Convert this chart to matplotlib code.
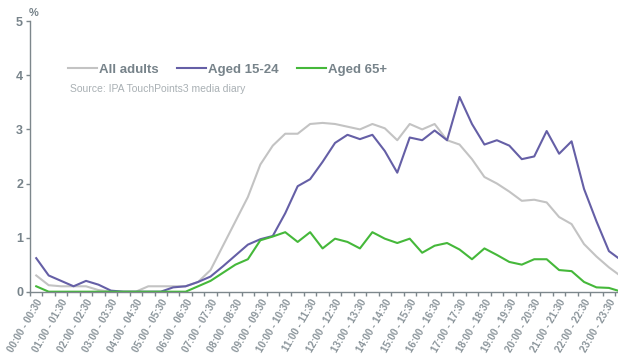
import matplotlib
matplotlib.use('Agg')
import matplotlib.pyplot as plt
import numpy as np

# Half-hour slots across the day (labels shown every hour)
slots = [f"{h:02d}:{m:02d} - {h + (m + 30) // 60:02d}:{(m + 30) % 60:02d}"
         for h in range(24) for m in (0, 30)]

all_adults = [0.30, 0.12, 0.10, 0.10, 0.10, 0.03, 0.00, 0.00, 0.00, 0.10,
              0.10, 0.10, 0.10, 0.18, 0.40, 0.85, 1.30, 1.75, 2.35, 2.70,
              2.92, 2.92, 3.10, 3.12, 3.10, 3.05, 3.00, 3.10, 3.02, 2.80,
              3.10, 3.00, 3.10, 2.80, 2.72, 2.45, 2.12, 2.00, 1.85, 1.68,
              1.70, 1.65, 1.38, 1.25, 0.88, 0.65, 0.45, 0.28]

aged_15_24 = [0.62, 0.30, 0.20, 0.10, 0.20, 0.13, 0.02, 0.00, 0.00, 0.00,
              0.00, 0.08, 0.10, 0.18, 0.28, 0.47, 0.67, 0.87, 0.97, 1.03,
              1.45, 1.95, 2.08, 2.40, 2.75, 2.90, 2.82, 2.90, 2.60, 2.20,
              2.85, 2.80, 2.98, 2.80, 3.60, 3.10, 2.72, 2.80, 2.70, 2.45,
              2.50, 2.97, 2.55, 2.78, 1.90, 1.30, 0.75, 0.58]

aged_65_plus = [0.10, 0.00, 0.00, 0.00, 0.00, 0.00, 0.00, 0.00, 0.00, 0.00,
                0.00, 0.00, 0.00, 0.10, 0.20, 0.35, 0.50, 0.60, 0.95, 1.02,
                1.10, 0.92, 1.10, 0.80, 0.98, 0.92, 0.80, 1.10, 0.98, 0.90,
                0.98, 0.72, 0.85, 0.90, 0.78, 0.60, 0.80, 0.68, 0.55, 0.50,
                0.60, 0.60, 0.40, 0.38, 0.18, 0.08, 0.07, 0.00]

series_names = ['All adults', 'Aged 15-24', 'Aged 65+']
colors = ['#c3c3c3', '#655fa6', '#45b83a']
text_grey = '#77838a'

plt.rcParams['font.family'] = ['Liberation Sans', 'DejaVu Sans']

W, H = 618, 356
fig = plt.figure(figsize=(W / 100, H / 100), dpi=100)
fig.patch.set_facecolor('white')

# axes: x from 30 px to ~628 px (cropped on the right), y=0 at 291.7 px, y=5 at 21.2 px
ax = fig.add_axes([30 / W, 1 - 291.7 / H, 597.6 / W, 270.5 / H])

x = np.arange(len(slots))
for vals, name, c in zip([all_adults, aged_15_24, aged_65_plus], series_names, colors):
    ax.plot(x, vals, color=c, lw=1.5, label=name, solid_joinstyle='round')

ax.set_xlim(-0.5, len(slots) - 0.5)
ax.set_ylim(0, 5)

for s in ['top', 'right']:
    ax.spines[s].set_visible(False)
for s in ['left', 'bottom']:
    ax.spines[s].set_color('#7d878c')
    ax.spines[s].set_linewidth(1.0)

# y axis
ax.set_yticks(range(6))
ax.tick_params(axis='y', direction='out', length=3, width=1, color='#7d878c',
               labelsize=9, labelcolor=text_grey, pad=2)
for t in ax.get_yticklabels():
    t.set_fontweight('bold')

# x axis: tick marks at slot boundaries, labels every hour
ax.set_xticks(np.arange(-0.5, len(slots), 1), minor=True)
ax.set_xticks(x[::2])
ax.set_xticklabels(slots[::2], rotation=60, ha='right', rotation_mode='anchor',
                   fontsize=7.1, color='#8a949a', fontweight='bold')
ax.tick_params(axis='x', which='major', length=0, pad=4)
ax.tick_params(axis='x', which='minor', direction='out', length=3, width=1,
               color='#7d878c')

fig.text(29 / W, 1 - 13 / H, '%', fontsize=8, fontweight='bold', color=text_grey,
         ha='left', va='center')

leg = ax.legend(loc='center left', bbox_to_anchor=(68 / W, 1 - 70 / H),
                bbox_transform=fig.transFigure, ncol=3, frameon=False,
                handlelength=2.2, handletextpad=0.15, columnspacing=1.4,
                borderpad=0, borderaxespad=0,
                prop={'size': 9.5, 'weight': 'bold'})
for t in leg.get_texts():
    t.set_color(text_grey)

fig.text(70 / W, 1 - 89 / H, 'Source: IPA TouchPoints3 media diary', fontsize=7.5,
         color='#a9b0b4', ha='left', va='center')

fig.savefig('out.png', dpi=100)
